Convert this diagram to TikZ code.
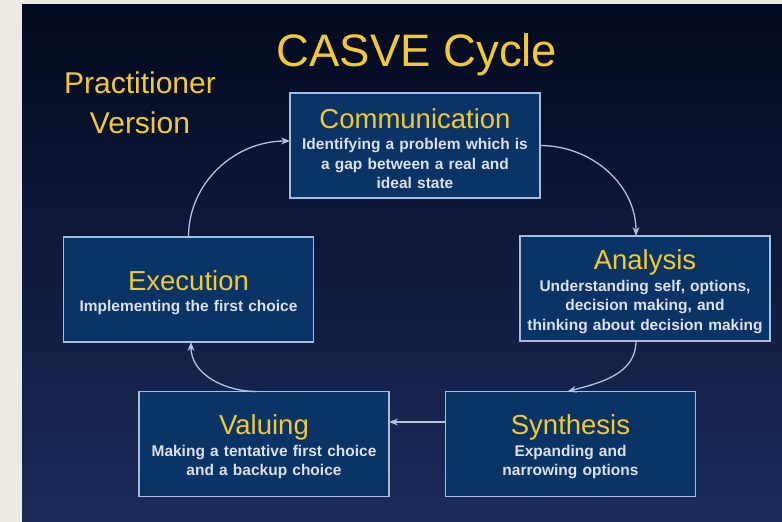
\documentclass[tikz,border=0pt]{standalone}
\usepackage{fontspec}
\setmainfont{Liberation Sans}
\usetikzlibrary{arrows.meta}

\definecolor{pagebg}{HTML}{EDEAE4}
\definecolor{slidetop}{HTML}{030A1F}
\definecolor{slidebot}{HTML}{1B2A5A}
\definecolor{boxfill}{HTML}{0A3366}
\definecolor{boxline}{HTML}{A8BCE0}
\definecolor{gold}{HTML}{F2C935}
\definecolor{bodytext}{HTML}{DCE0EA}
\definecolor{arrowc}{HTML}{B4C2DE}

\newcommand{\stagetitle}[1]{{\mdseries\fontsize{27.5}{30}\selectfont\color{gold}\rule{0pt}{26pt}#1\par}\vspace{2pt}}

\begin{document}
\begin{tikzpicture}[x=1pt, y=-1pt,
  stage/.style={draw=boxline, line width=1.2pt, fill=boxfill, inner sep=0pt, outer sep=0pt,
    text width=250pt, minimum height=105pt, align=center, text=bodytext,
    font=\bfseries\fontsize{15.5}{19.5}\selectfont},
  cyc/.style={draw=arrowc, line width=1.3pt, -{Stealth[length=9pt,width=7pt,inset=3pt]}}]
\useasboundingbox (0,0) rectangle (782,522);
\fill[pagebg] (0,0) rectangle (782,522);
\shade[top color=slidetop, bottom color=slidebot] (22,4) rectangle (782,522);

\node[anchor=base, text=gold, font=\fontsize{45.5}{50}\selectfont] (title) at (417,66) {CASVE Cycle};
\node[anchor=base, text=gold, align=center, font=\fontsize{30}{40}\selectfont] (version) at (140,133) {Practitioner\\Version};

\node[stage] (comm) at (415,145.5) {\stagetitle{Communication}Identifying a problem which is\\ a gap between a real and\\ ideal state};
\node[stage] (ana) at (645,288.5) {\stagetitle{Analysis}Understanding self, options,\\ decision making, and\\ thinking about decision making};
\node[stage] (syn) at (570.5,444) {\stagetitle{Synthesis}Expanding and\\ narrowing options};
\node[stage] (val) at (264,444) {\stagetitle{Valuing}Making a tentative first choice\\ and a backup choice};
\node[stage] (exe) at (188.5,289.5) {\stagetitle{Execution}Implementing the first choice};

\draw[cyc] (comm.east) to[out=0, in=90] ([xshift=-9pt]ana.north);
\draw[cyc] ([xshift=-9pt]ana.south) to[out=-90, in=15] ([xshift=-3pt]syn.north);
\draw[cyc] ([yshift=22pt]syn.west) -- ([yshift=22pt]val.east);
\draw[cyc] ([xshift=-7pt]val.north) to[out=180, in=-90] ([xshift=2.5pt]exe.south);
\draw[cyc] (exe.north) to[out=90, in=180] ([yshift=4.5pt]comm.west);
\end{tikzpicture}
\end{document}
